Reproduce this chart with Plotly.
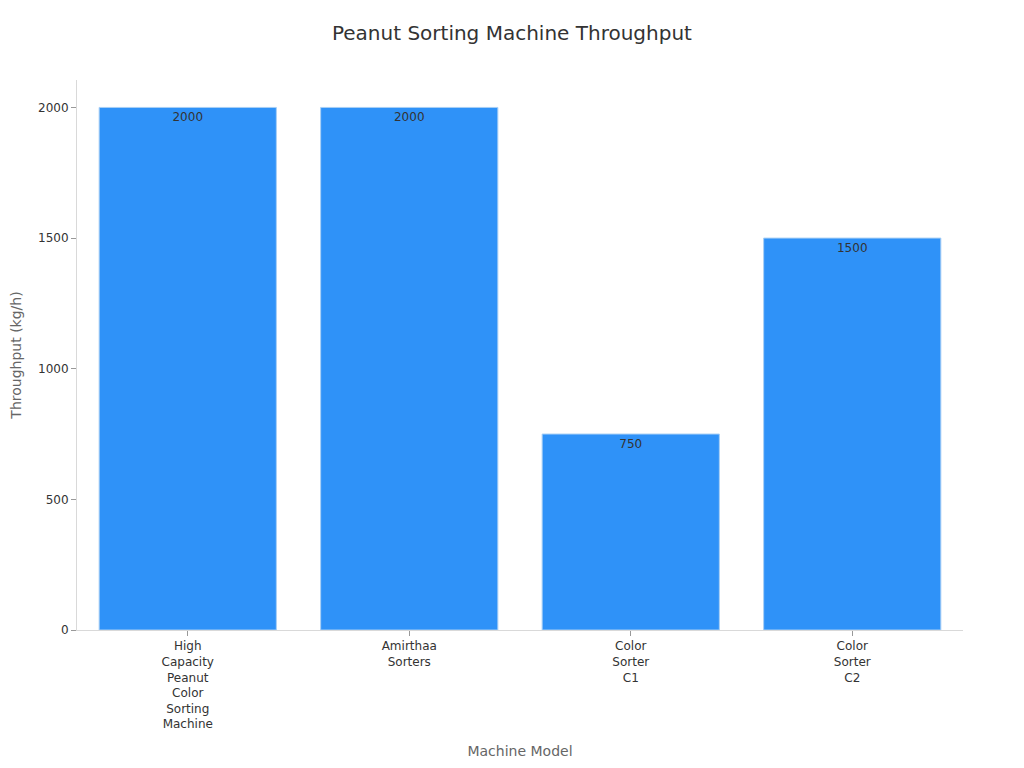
import plotly.graph_objects as go

machines = ["High<br>Capacity<br>Peanut<br>Color<br>Sorting<br>Machine",
            "Amirthaa<br>Sorters",
            "Color<br>Sorter<br>C1",
            "Color<br>Sorter<br>C2"]
throughput = [2000, 2000, 750, 1500]

fig = go.Figure()
fig.add_trace(go.Bar(
    x=machines,
    y=throughput,
    text=throughput,
    textposition="inside",
    insidetextanchor="end",
    textfont=dict(color="#333333", size=12),
    marker=dict(color="#2F92F8", line=dict(color="#A8CFF5", width=1)),
))

# page adds an 8px offset, so size and margins are trimmed to match
fig.update_layout(
    title=dict(text="Peanut Sorting Machine Throughput", x=0.496, y=0.967,
               yanchor="middle", font=dict(size=20, color="#333333")),
    font=dict(family="DejaVu Sans", size=12, color="#333333"),
    plot_bgcolor="white",
    paper_bgcolor="white",
    width=1016,
    height=760,
    margin=dict(l=69, r=61, t=72, b=130),
    bargap=0.2,
    showlegend=False,
)
fig.update_xaxes(
    title=dict(text="Machine Model", font=dict(size=14, color="#666666")),
    showline=True, linecolor="#D9D9D9", ticks="outside", ticklen=5,
    tickcolor="#999999", showgrid=False,
)
fig.update_yaxes(
    title=dict(text="Throughput (kg/h)", font=dict(size=14, color="#666666")),
    showline=True, linecolor="#D9D9D9", ticks="outside", ticklen=5,
    tickcolor="#999999", showgrid=False, zeroline=False, automargin=False,
    range=[0, 2105], tickvals=[0, 500, 1000, 1500, 2000],
)

fig.write_html("out.html")
